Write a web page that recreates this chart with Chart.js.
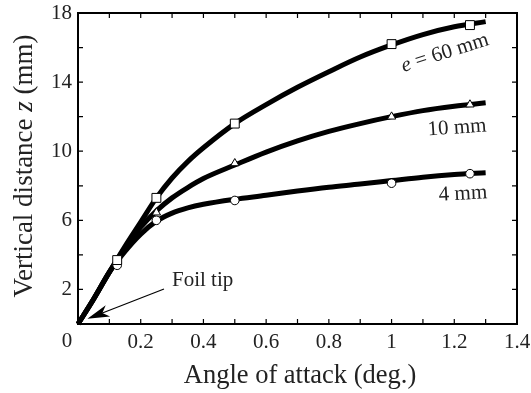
<!DOCTYPE html>
<html>
<head>
<meta charset="utf-8">
<script src="https://cdn.jsdelivr.net/npm/chart.js@4/dist/chart.umd.min.js"></script>
<style>
  html, body { margin: 0; padding: 0; background: #fff; }
  #wrap { width: 531px; height: 393px; }
</style>
</head>
<body>
<div id="wrap"><canvas id="chart" width="531" height="393"></canvas></div>
<script>
// fitted curves, read at common angles
const curveX = [0, 0.05, 0.1, 0.15, 0.2, 0.25, 0.3, 0.35, 0.4, 0.5, 0.6, 0.7, 0.8, 0.9, 1.0, 1.1, 1.2, 1.3];
const curve60 = [0, 1.45, 3.0, 4.5, 5.9, 7.3, 8.45, 9.4, 10.2, 11.6, 12.7, 13.7, 14.6, 15.45, 16.15, 16.75, 17.2, 17.5];
const curve10 = [0, 1.45, 3.0, 4.4, 5.6, 6.55, 7.3, 7.9, 8.42, 9.2, 9.95, 10.6, 11.15, 11.6, 12.0, 12.35, 12.6, 12.8];
const curve4  = [0, 1.45, 3.0, 4.2, 5.2, 5.95, 6.42, 6.72, 6.93, 7.22, 7.45, 7.7, 7.92, 8.1, 8.3, 8.5, 8.65, 8.75];

// measured points
const measX = [0.125, 0.25, 0.5, 1.0, 1.25];
const meas60 = [3.7, 7.3, 11.6, 16.2, 17.3];
const meas10 = [3.6, 6.45, 9.3, 12.0, 12.7];
const meas4  = [3.4, 6.0, 7.15, 8.15, 8.7];

const xTickLabels = ['0.2', '0.4', '0.6', '0.8', '1', '1.2', '1.4'];
const yTickLabels = ['2', '6', '10', '14', '18'];

const SERIF = '"Liberation Serif", "Times New Roman", serif';
const INK = '#222';

const pts = (xs, ys) => xs.map((x, i) => ({ x: x, y: ys[i] }));

function curve(ys) {
    return {
        data: pts(curveX, ys),
        borderColor: '#000',
        borderWidth: 5,
        pointRadius: 0,
        cubicInterpolationMode: 'monotone',
        clip: false,
        order: 2
    };
}

function markers(ys, style, r) {
    return {
        data: pts(measX, ys),
        showLine: false,
        pointStyle: style,
        pointRadius: r,
        backgroundColor: '#fff',
        borderColor: '#000',
        borderWidth: 1,
        order: 1
    };
}

// text with an italic part, centred on x
function drawRuns(ctx, runs, size, x, y) {
    let total = 0;
    runs.forEach(r => {
        ctx.font = (r.italic ? 'italic ' : '') + size + 'px ' + SERIF;
        r.w = ctx.measureText(r.text).width;
        total += r.w;
    });
    let cx = x - total / 2;
    runs.forEach(r => {
        ctx.font = (r.italic ? 'italic ' : '') + size + 'px ' + SERIF;
        ctx.fillText(r.text, cx, y);
        cx += r.w;
    });
}

const frame = {
    id: 'frame',
    beforeDatasetsDraw(chart) {
        const { ctx, chartArea: a, scales: { x, y } } = chart;
        ctx.save();
        ctx.strokeStyle = '#000';
        ctx.lineWidth = 2;
        ctx.strokeRect(a.left, a.top, a.right - a.left, a.bottom - a.top);
        ctx.lineWidth = 1.2;
        ctx.beginPath();
        for (let i = 1; i < 14; i++) {
            const px = x.getPixelForValue(i / 10);
            ctx.moveTo(px, a.bottom); ctx.lineTo(px, a.bottom - 5);
            ctx.moveTo(px, a.top); ctx.lineTo(px, a.top + 5);
        }
        for (let v = 2; v < 18; v += 2) {
            const py = y.getPixelForValue(v);
            ctx.moveTo(a.left, py); ctx.lineTo(a.left + 5, py);
            ctx.moveTo(a.right, py); ctx.lineTo(a.right - 5, py);
        }
        ctx.stroke();
        ctx.restore();
    },
    afterDatasetsDraw(chart) {
        const { ctx, scales: { x, y } } = chart;
        ctx.save();
        ctx.fillStyle = INK;
        ctx.textBaseline = 'middle';

        // shared origin label
        ctx.font = '21px ' + SERIF;
        ctx.textAlign = 'center';
        ctx.fillText('0', x.getPixelForValue(0) - 11, y.getPixelForValue(0) + 17);

        // axis titles
        ctx.font = '26.5px ' + SERIF;
        ctx.fillText('Angle of attack (deg.)', 300, 376);
        ctx.textAlign = 'left';
        ctx.save();
        ctx.translate(25, 166);
        ctx.rotate(-Math.PI / 2);
        drawRuns(ctx, [
            { text: 'Vertical distance ' },
            { text: 'z', italic: true },
            { text: ' (mm)' }
        ], 27, 0, 0);
        ctx.restore();

        // series labels
        ctx.save();
        ctx.translate(445, 53);
        ctx.rotate(-17.5 * Math.PI / 180);
        drawRuns(ctx, [
            { text: 'e', italic: true },
            { text: ' = 60 mm' }
        ], 21, 0, 0);
        ctx.restore();

        ctx.save();
        ctx.translate(457, 128);
        ctx.rotate(-4 * Math.PI / 180);
        drawRuns(ctx, [{ text: '10 mm' }], 21, 0, 0);
        ctx.restore();

        ctx.save();
        ctx.translate(463, 194);
        ctx.rotate(-3 * Math.PI / 180);
        drawRuns(ctx, [{ text: '4 mm' }], 21, 0, 0);
        ctx.restore();

        // foil tip callout
        ctx.font = '21px ' + SERIF;
        ctx.fillText('Foil tip', 172, 280);
        const tipX = x.getPixelForValue(0.03), tipY = y.getPixelForValue(0.3);
        const fromX = 164, fromY = 289;
        const ang = Math.atan2(tipY - fromY, tipX - fromX);
        const c = Math.cos(ang), s = Math.sin(ang);
        ctx.strokeStyle = '#000';
        ctx.lineWidth = 1.2;
        ctx.beginPath();
        ctx.moveTo(fromX, fromY);
        ctx.lineTo(tipX - 14 * c, tipY - 14 * s);
        ctx.stroke();
        ctx.fillStyle = '#000';
        ctx.beginPath();
        ctx.moveTo(tipX, tipY);
        ctx.lineTo(tipX - 22 * c + 6 * s, tipY - 22 * s - 6 * c);
        ctx.lineTo(tipX - 16 * c, tipY - 16 * s);
        ctx.lineTo(tipX - 22 * c - 6 * s, tipY - 22 * s + 6 * c);
        ctx.closePath();
        ctx.fill();
        ctx.restore();
    }
};

new Chart(document.getElementById('chart'), {
    type: 'line',
    data: {
        datasets: [
            curve(curve60),
            curve(curve10),
            curve(curve4),
            markers(meas60, 'rect', 6.3),
            markers(meas10, 'triangle', 4.8),
            markers(meas4, 'circle', 4.3)
        ]
    },
    options: {
        responsive: false,
        animation: false,
        layout: { padding: { top: 13, right: 14, left: 0, bottom: 0 } },
        plugins: { legend: { display: false }, tooltip: { enabled: false } },
        scales: {
            x: {
                type: 'linear',
                min: 0,
                max: 1.4,
                grid: { display: false, drawTicks: false },
                border: { display: false },
                ticks: {
                    stepSize: 0.2,
                    padding: 6,
                    color: INK,
                    font: { family: SERIF, size: 21 },
                    callback: (v, i) => i === 0 ? '' : xTickLabels[i - 1]
                },
                afterFit: s => {
                    s.height = 69;
                    s.paddingLeft = 0;
                    s.paddingRight = 0;
                }
            },
            y: {
                min: 0,
                max: 18,
                grid: { display: false, drawTicks: false },
                border: { display: false },
                ticks: {
                    stepSize: 2,
                    padding: 6,
                    color: INK,
                    font: { family: SERIF, size: 21 },
                    callback: (v, i) => (i % 2 === 1) ? yTickLabels[(i - 1) / 2] : ''
                },
                afterFit: s => {
                    s.width = 78;
                    s.paddingTop = 0;
                    s.paddingBottom = 0;
                }
            }
        }
    },
    plugins: [frame]
});
</script>
</body>
</html>
